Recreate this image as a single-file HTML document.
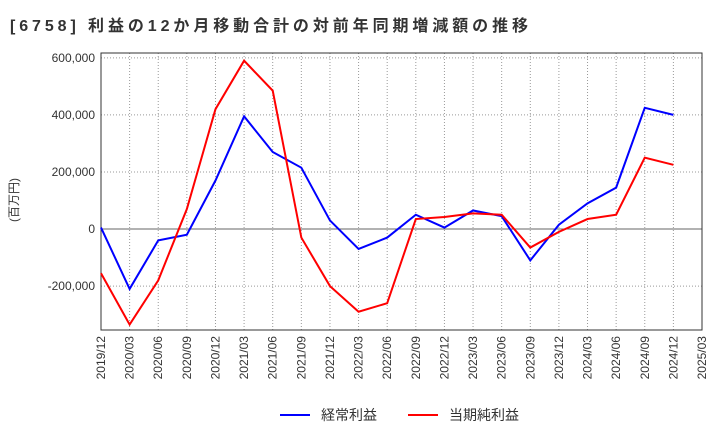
<!DOCTYPE html>
<html><head><meta charset="utf-8"><style>
body{margin:0;background:#fff;font-family:"Liberation Sans","Noto Sans CJK JP",sans-serif;}
</style></head><body>
<svg width="720" height="440" xmlns="http://www.w3.org/2000/svg" id="chart">
<text x="10" y="31" font-size="16" font-weight="bold" fill="#333" textLength="518" lengthAdjust="spacing">[6758]  利益の12か月移動合計の対前年同期増減額の推移</text>
<text x="18" y="200" font-size="12" fill="#333" transform="rotate(-90 18 200)" text-anchor="middle">(百万円)</text>
<g id="grid"></g><g id="axes"></g><g id="series"></g>
<g>
<line x1="280" y1="415" x2="310" y2="415" stroke="#0000ff" stroke-width="2"/>
<text x="321" y="420" font-size="14" fill="#333">経常利益</text>
<line x1="408" y1="415" x2="438" y2="415" stroke="#ff0000" stroke-width="2"/>
<text x="449" y="420" font-size="14" fill="#333">当期純利益</text>
</g>
</svg>
<script>
const categories=["2019/12","2020/03","2020/06","2020/09","2020/12","2021/03","2021/06","2021/09","2021/12","2022/03","2022/06","2022/09","2022/12","2023/03","2023/06","2023/09","2023/12","2024/03","2024/06","2024/09","2024/12","2025/03"];
const keijo=[5000,-210000,-40000,-20000,170000,395000,270000,215000,30000,-70000,-30000,50000,5000,65000,45000,-110000,15000,90000,145000,425000,400000];
const junri=[-155000,-335000,-180000,70000,420000,590000,485000,-30000,-200000,-290000,-260000,35000,42000,55000,50000,-65000,-10000,35000,50000,250000,225000];
const yTicks=[-200000,0,200000,400000,600000];
const yTickLabels=["-200,000","0","200,000","400,000","600,000"];
const L=101,R=702,T=53,B=330;
const yMin=-354000,yMax=617000;
const NS="http://www.w3.org/2000/svg";
function xs(i){return L+(R-L)*i/(categories.length-1);}
function ys(v){return B-(v-yMin)/(yMax-yMin)*(B-T);}
function mk(tag,attrs,parent){const e=document.createElementNS(NS,tag);for(const k in attrs)e.setAttribute(k,attrs[k]);parent.appendChild(e);return e;}
const grid=document.getElementById('grid'),axes=document.getElementById('axes'),ser=document.getElementById('series');
categories.forEach((c,i)=>{
 const g=mk('line',{x1:xs(i),x2:xs(i),y1:T,y2:B,stroke:'#999','stroke-dasharray':'1,2','stroke-width':1},grid);
 
 
 const x=xs(i),y=B+6;
 const t=mk('text',{x:x+4,y:y,'font-size':12,fill:'#333','text-anchor':'end',transform:`rotate(-90 ${x+4} ${y})`},axes);
 t.textContent=c;
 
 
});
yTicks.forEach((v,i)=>{
 const y=ys(v);
 const g=mk('line',{x1:L,x2:R,y1:y,y2:y,stroke:v===0?'#666':'#999','stroke-dasharray':v===0?'none':'1,2','stroke-width':1},grid);
 
 
 const t=mk('text',{x:L-6,y:y+4,'font-size':12,fill:'#333','text-anchor':'end'},axes);
 t.textContent=yTickLabels[i];
 
 
});
const fr=mk('rect',{x:L,y:T,width:R-L,height:B-T,fill:'none',stroke:'#333','stroke-width':1},axes);


function line(arr,color,name){
 const p=mk('polyline',{points:arr.map((v,i)=>xs(i)+','+ys(v)).join(' '),fill:'none',stroke:color,'stroke-width':2},ser);
 
 
}
line(keijo,'#0000ff','keijo-line');
line(junri,'#ff0000','junri-line');
</script>
</body></html>
